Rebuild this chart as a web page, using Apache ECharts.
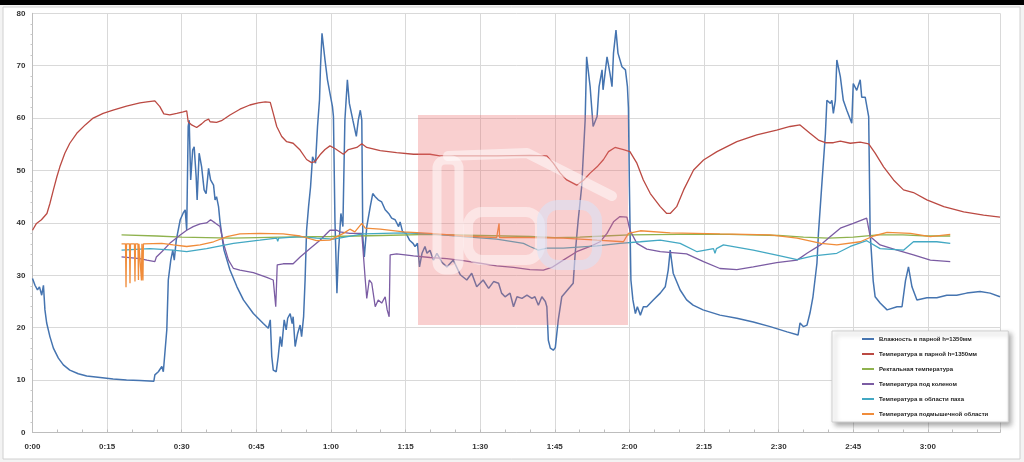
<!DOCTYPE html>
<html><head><meta charset="utf-8">
<script src="https://cdn.jsdelivr.net/npm/echarts@6/dist/echarts.min.js"></script>
<style>html,body{margin:0;padding:0;background:#f3f3f3}#c{width:1024px;height:462px}</style>
</head><body><div id="c"></div>
<script>
var seriesNames = ['Влажность в парной h=1350мм','Температура в парной h=1350мм','Ректальная температура','Температура под коленом','Температура в области паха','Температура подмышечной области'];
var colors = ['#4574b0','#bb4a43','#8fb24e','#7b5ca3','#43a8c3','#f08c3a'];
var yTicks = [0,10,20,30,40,50,60,70,80];
var xTickStep = 15; // minutes between labels

var humidity = [[0,29.4],[0.5,28.1],[1,27.2],[1.4,27.8],[1.85,26.2],[2.2,28.1],[2.5,23.4],[2.85,20.9],[3.5,18.3],[4.2,16.1],[5.2,14.2],[6.2,12.9],[7.5,11.9],[9.2,11.2],[10.9,10.8],[13.6,10.5],[16.2,10.2],[18.9,10.0],[21.6,9.9],[24.4,9.8],[24.6,11],[25.3,11.6],[26,12.6],[26.3,11.6],[26.6,11.9],[27,19.6],[27.3,29.1],[27.8,32.9],[28.2,34.8],[28.5,32.9],[28.9,36.7],[29.7,40.6],[30.3,41.9],[30.7,42.5],[31,38.6],[31.3,58.4],[31.5,59.6],[31.8,48.2],[32.2,53.9],[32.5,54.5],[32.9,48.8],[33.1,44.4],[33.5,53.3],[34,50.7],[34.5,46.3],[34.9,45.6],[35.4,50.4],[35.8,48.2],[36.4,47.2],[36.7,44.4],[37,45],[37.4,43.1],[37.7,40.2],[38.2,36.7],[38.5,34.8],[39.7,31],[41.1,27.8],[42.4,25.3],[44.4,22.7],[46.4,20.8],[47.4,19.9],[47.8,21.5],[48.1,14.5],[48.4,11.9],[49,11.6],[49.4,14.5],[49.8,18.3],[50.1,16.4],[50.6,21.5],[51,19.6],[51.3,21.8],[51.8,22.7],[52.2,20.8],[52.4,22.1],[52.8,16.4],[53.3,18.9],[53.8,20.5],[54.1,18.3],[54.5,22.1],[54.8,29.1],[55.1,38.6],[55.5,43.1],[55.9,46.9],[56.3,52.6],[56.6,52],[56.9,51.4],[57.3,58.4],[57.7,63.5],[57.9,69.8],[58.2,76.2],[58.5,75.9],[58.8,71.1],[59.3,67.3],[59.8,64.7],[60.3,62.2],[60.5,60.3],[60.8,40.6],[61.2,26.6],[61.5,34.2],[62,41.8],[62.4,39.3],[62.8,59.6],[63.3,67.3],[63.7,62.8],[64.4,59.6],[65.1,56.5],[65.5,59.6],[65.9,61.5],[66.2,59.6],[66.4,37.4],[66.7,33.5],[67.2,39.3],[67.9,43.1],[68.4,45.6],[68.9,45],[69.5,44.4],[70.2,44],[70.9,42.5],[71.6,41.8],[72.2,40.9],[72.9,40.6],[73.6,39.3],[73.9,40.2],[74.4,38.3],[75.1,38],[75.8,36.7],[76.5,36.1],[76.9,35.5],[77.4,36.1],[77.8,31.6],[78.3,34.2],[78.9,35.5],[79.3,34.2],[79.9,34.8],[80.6,32.9],[81.3,34.2],[82.3,32.5],[83.3,31.6],[84.6,32.9],[86,30.1],[87.3,29.1],[88.3,30.4],[89.3,27.8],[90.6,29.1],[91.7,27.5],[92.7,28.8],[93.7,28.5],[94.3,26.6],[95,25.9],[96,26.6],[96.7,24],[97.4,25.9],[98.4,25.6],[99.4,26.2],[100.4,25.6],[101,25.9],[101.7,24.3],[102.4,25.9],[103.1,25],[103.4,24],[103.7,17.6],[104.1,16.1],[104.7,15.7],[105.1,16.2],[105.7,21.5],[106.4,25.9],[108.1,27.8],[108.7,28.5],[109.1,34.2],[109.7,40.5],[110.4,46.9],[111.1,59.6],[111.4,71.7],[112.1,66],[112.7,58.4],[113.5,60.3],[113.9,66],[114.5,69.2],[114.7,65.4],[115.5,71.7],[116.1,68.5],[116.5,66],[116.8,72.4],[117.3,76.8],[117.7,72.4],[118.5,69.8],[119.2,69.2],[119.6,66],[119.8,62],[120,46.9],[120.3,29.1],[120.7,25.3],[121.2,22.7],[121.6,24],[122.2,22.4],[122.8,24],[123.5,24],[124.8,25.3],[126.2,26.6],[127.2,27.8],[127.8,31],[128.2,34.8],[128.8,30.4],[130.2,27.2],[131.5,25.3],[132.8,24.3],[134.8,23.4],[138.2,22.4],[141.6,21.8],[144.9,21.1],[148.3,20.2],[151.7,19.2],[153.9,18.6],[154.3,20.9],[155,20.2],[155.7,20.5],[156.3,22.8],[156.9,25.9],[157.7,32.3],[158,38],[158.7,47.6],[159.4,57],[159.7,63.4],[160.4,62.8],[160.7,63.4],[161,60.9],[161.4,63.4],[161.7,71.1],[162.4,67.9],[163,63.4],[163.7,61.5],[164.7,59],[165,66.6],[165.7,65.3],[166.4,67.3],[166.7,64],[167.4,64],[168.1,60.3],[168.4,38],[169,29],[169.4,25.9],[170.4,24.7],[171.8,23.4],[173.8,24],[174.8,24],[175.5,29],[176.1,31.6],[176.8,27.8],[177.8,25.3],[179.8,25.7],[181.8,25.7],[183.8,26.2],[185.8,26.2],[187.8,26.6],[190.5,26.9],[192.5,26.6],[194.5,25.9]];

var steamTemp = [[0,38.6],[0.8,39.9],[1.8,40.6],[2.9,41.8],[3.5,43.7],[4.2,46.3],[4.9,48.8],[5.5,50.7],[6.5,53.3],[7.5,55.2],[8.9,57.1],[10.6,58.7],[12.2,60],[14.2,60.9],[16.2,61.5],[18.9,62.3],[21.6,62.9],[23,63.1],[24.6,63.3],[25.6,62.2],[26.4,60.8],[27.6,60.6],[29,60.9],[30.3,61.2],[31,61.4],[31.3,59.3],[32,58.7],[33,58.2],[34,58.9],[34.7,59.5],[35.4,59.8],[35.7,59.3],[37,59.2],[38,59.5],[39.7,60.6],[41.7,61.7],[43.7,62.5],[45.4,62.9],[46.8,63.1],[47.8,63],[48.4,60.9],[49.1,58.4],[50.1,56.5],[51.1,55.5],[52.4,55.2],[53.8,53.9],[55.1,52.1],[56.1,51.5],[56.8,51.7],[57.8,53],[58.8,54],[59.8,54.7],[60.8,54.2],[62.5,53.1],[63.5,54],[65.2,54.4],[66.2,55.1],[67.2,54.4],[69.9,53.8],[73.2,53.4],[76.6,53.1],[79.9,53.1],[81.9,52.8],[86.6,52.8],[93.3,52.8],[100,52.9],[103.4,52.8],[104.7,51.4],[106.1,49.5],[107.4,48.2],[109.4,47.2],[110.8,48.2],[112.1,49.5],[113.5,50.7],[114.8,52.1],[115.8,53.6],[117.1,54.4],[118.8,54],[120.1,53.6],[121.5,51.4],[122.8,48.2],[124.2,45.6],[126.2,43.1],[127.5,41.8],[128.2,41.8],[129.5,43.1],[130.9,46.3],[132.9,50.1],[134.9,52],[137.6,53.6],[141.6,55.5],[145.6,56.8],[149.6,57.7],[152.3,58.4],[154.3,58.7],[156.3,57.1],[158,55.8],[159.4,55.3],[161,55.3],[162.4,55.6],[164.4,55.2],[166.4,55.4],[168.1,55.1],[169.4,53.3],[171.1,50.7],[173.1,48.2],[175.1,46.3],[177.1,45.8],[179.8,44.4],[183.2,43.1],[187.2,42.1],[191.2,41.5],[194.5,41.1]];

var rectal = [[17.9,37.7],[25,37.5],[30,37.3],[40,37.1],[50,37.3],[60,37.4],[70,37.6],[80,37.8],[90,37.6],[100,37.4],[105,37.2],[110,37.3],[115,37.5],[120,37.7],[130,37.8],[140,37.8],[150,37.6],[155,37.3],[160,37.1],[165,37.3],[170,37.7],[175,37.7],[180,37.5],[184.5,37.5]];

var knee = [[17.9,33.5],[21.6,33.2],[23,32.9],[24.6,32.6],[24.9,33.5],[26,34.5],[27.6,36.1],[29.7,37.7],[31,38.6],[32.3,39.3],[33.7,39.8],[35,40],[35.8,40.6],[36.7,40],[37.7,39.3],[38.4,36.1],[39.4,32.9],[40.4,31.3],[41.7,31],[44.4,30.5],[47.1,29.6],[48.4,29.1],[48.9,24],[49.2,32],[50.4,32.2],[52.4,32.2],[53.8,33.5],[55.8,35.1],[57.8,36.7],[59.8,38.6],[61.2,38.6],[61.8,38.3],[63.8,38],[66.2,38],[66.9,29.1],[67.2,25.6],[67.7,29.1],[68.2,28.5],[68.9,24],[69.5,25.3],[70.2,24.7],[70.9,25.9],[71.3,23.4],[71.7,22.1],[71.9,33.9],[73.2,34.1],[76.6,33.7],[79.9,33.4],[83.3,33.2],[86.6,32.8],[90,32.3],[93.3,31.8],[96.7,31.5],[100,31.1],[102.7,31],[104.4,31.5],[106.7,32.9],[109.4,34.5],[112.1,35.5],[114.1,36.4],[115.5,38],[116.8,40.2],[118.1,41.2],[119.5,41.1],[120.1,38.6],[121.5,36.1],[123.5,35],[126.2,34.5],[131.5,34.1],[134.9,32.6],[138.2,31.3],[141.6,31.1],[144.9,31.6],[149.6,32.4],[153.7,32.9],[155.7,34.2],[158.4,35.8],[160.4,37.4],[162.4,39],[165,39.9],[167.7,40.9],[168.4,37.4],[170.4,35.8],[173.8,34.8],[177.1,33.9],[180.5,32.9],[184.5,32.6]];

var groin = [[17.9,34.8],[23.6,35.1],[28.3,34.8],[31,34.5],[35,35.1],[40.4,36.1],[45.7,36.7],[49.1,37.1],[49.3,36.5],[49.5,37.1],[53.8,37.4],[57.1,37.1],[60.5,36.9],[66.5,37.9],[74.6,38.1],[79.9,37.9],[86.6,37.4],[93.3,36.9],[98.7,36.1],[100,35.5],[101.7,34.8],[103.4,35.2],[106.7,35.2],[113.5,35.6],[118.1,36.1],[122.2,36.4],[126.2,36.7],[130.2,36.1],[133.6,34.5],[136.9,35.1],[137.2,34.2],[137.5,35.1],[138.9,35.8],[144.9,34.8],[150.3,33.7],[153.7,33],[157,33.7],[161.7,34.2],[164.4,35.5],[167.7,36.6],[170.4,35.1],[175.1,34.8],[177.1,36.4],[181.8,36.4],[184.5,36.1]];

var armpit = [[17.9,36],[18.7,36],[18.8,27.7],[18.9,36],[19.5,36],[19.6,28.5],[19.7,36],[20.5,36],[20.6,28.8],[20.7,36],[21.2,36],[21.3,29.1],[21.4,36],[21.8,36],[21.9,29],[22.0,36],[22.2,29],[22.3,36],[26,36.1],[28.3,35.8],[31,35.5],[33.7,35.8],[36.4,36.4],[39.1,37.4],[41.7,37.9],[45.7,38],[50.4,37.9],[53.8,37.5],[57.1,36.6],[59.8,36.7],[62.5,38],[63.8,38.8],[64.8,38.3],[66.2,39.9],[66.9,39],[69.9,38.8],[74.6,38.3],[79.9,38],[86.6,37.5],[93.3,37.2],[93.7,37.2],[93.8,39.9],[93.9,37.2],[100,37.2],[106.7,37.1],[113.5,36.7],[118.8,36.4],[119.8,38],[122.2,38.5],[128.2,38.1],[138.2,37.9],[148.3,37.7],[153.7,37.1],[158.5,36.1],[161.7,35.8],[166.4,36.4],[169.1,37.5],[171.8,38.2],[176.5,38],[180.5,37.4],[184.5,37.8]];

var allData = [humidity, steamTemp, rectal, knee, groin, armpit];

var chart = echarts.init(document.getElementById('c'), null, {renderer:'canvas'});
var series = seriesNames.map(function(n,i){
  return {name:n, type:'line', data:allData[i], showSymbol:false, symbol:'none',
    lineStyle:{width:i===0?1.5:1.3, color:colors[i]}, itemStyle:{color:colors[i]}, z:2+i};
});
var option = {
  animation:false,
  backgroundColor:'#f3f3f3',
  textStyle:{fontFamily:'Liberation Sans'},
  graphic:[
    {type:'rect', shape:{x:0,y:0,width:1024,height:5}, style:{fill:'#000'}, z:-10, silent:true},
    {type:'rect', shape:{x:3,y:7,width:1017,height:452}, style:{fill:'#fff', stroke:'#d0d0d0', lineWidth:1}, z:-10, silent:true},
    {type:'rect', shape:{x:418,y:115,width:210,height:210}, style:{fill:'rgba(238,110,110,0.33)'}, z:100, silent:true},
    {type:'polyline', shape:{points:[[448,156],[527,153],[612,196]]}, style:{stroke:'rgba(255,255,255,0.5)', lineWidth:10, lineCap:'round', lineJoin:'round', fill:null}, z:101, silent:true},
    {type:'rect', shape:{x:437,y:160,width:22,height:110,r:8}, style:{stroke:'rgba(255,255,255,0.5)', lineWidth:9, fill:null}, z:101, silent:true},
    {type:'rect', shape:{x:468,y:212,width:72,height:48,r:14}, style:{stroke:'rgba(255,255,255,0.45)', lineWidth:10, fill:null}, z:101, silent:true},
    {type:'rect', shape:{x:542,y:205,width:55,height:60,r:16}, style:{stroke:'rgba(215,228,250,0.55)', lineWidth:10, fill:null}, z:101, silent:true}
  ],
  grid:{left:32.5, right:24, top:13.3, bottom:29.5, containLabel:false},
  legend:{
    orient:'vertical', left:832, top:331, align:'left',
    icon:'rect', itemWidth:12, itemHeight:2, itemGap:1,
    padding:[1,20,1,30],
    backgroundColor:'#fff', borderColor:'#cfcfcf', borderWidth:1,
    shadowBlur:5, shadowColor:'rgba(0,0,0,0.35)', shadowOffsetX:3, shadowOffsetY:3,
    textStyle:{fontSize:6, fontWeight:'bold', color:'#222', lineHeight:14, fontFamily:'Liberation Sans'},
    data:seriesNames
  },
  xAxis:{
    type:'value', min:0, max:194.5, interval:xTickStep,
    axisLine:{lineStyle:{color:'#bdbdbd'}},
    axisTick:{show:true, inside:true, length:3, lineStyle:{color:'#bdbdbd'}},
    minorTick:{show:true, splitNumber:3, length:3, lineStyle:{color:'#bdbdbd'}},
    splitLine:{show:true, lineStyle:{color:'#d9d9d9', width:1}},
    axisLabel:{showMaxLabel:false, fontSize:8, fontWeight:'bold', color:'#333', margin:10,
      formatter:function(v){var h=Math.floor(v/60), m=Math.round(v%60); return h+':'+(m<10?'0':'')+m;}}
  },
  yAxis:{
    type:'value', min:yTicks[0], max:yTicks[yTicks.length-1], interval:10,
    axisLine:{show:true, lineStyle:{color:'#bdbdbd'}},
    axisTick:{show:false},
    minorTick:{show:true, splitNumber:5, length:2, lineStyle:{color:'#c8c8c8'}},
    splitLine:{show:true, lineStyle:{color:'#d9d9d9', width:1}},
    axisLabel:{fontSize:8, fontWeight:'bold', color:'#333', margin:7}
  },
  series:series
};
chart.setOption(option);
</script></body></html>
